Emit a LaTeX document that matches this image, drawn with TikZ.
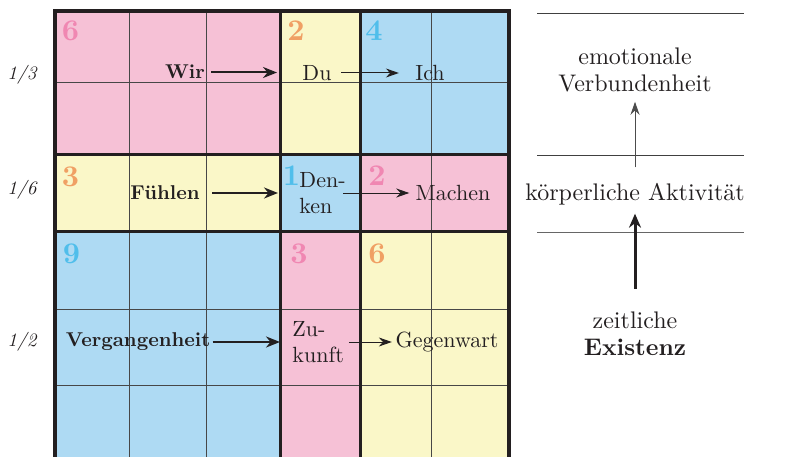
\documentclass[tikz,border=0pt]{standalone}
\usetikzlibrary{arrows.meta}
\definecolor{pinkf}{RGB}{246,193,214}
\definecolor{yelf}{RGB}{250,247,200}
\definecolor{bluef}{RGB}{174,218,243}
\definecolor{pinkn}{RGB}{240,135,178}
\definecolor{orangen}{RGB}{240,160,100}
\definecolor{cyann}{RGB}{80,190,235}
\definecolor{ink}{RGB}{35,31,32}
\begin{document}
\begin{tikzpicture}[x=1pt,y=-1pt,
  lbl/.style={inner sep=0pt, text=ink, scale=2.2},
  blbl/.style={inner sep=0pt, text=ink, scale=2.0, font=\bfseries},
  fraclbl/.style={inner sep=0pt, text=ink, scale=1.9, font=\itshape},
  numlbl/.style={inner sep=0pt, scale=3.0, font=\bfseries},
  twolbl/.style={inner sep=0pt, text=ink, scale=2.2, align=left, anchor=west},
  rlbl/.style={inner sep=0pt, text=ink, scale=2.4, align=center, font=\fontsize{10}{11.4}\selectfont},
  gridthin/.style={line width=1pt, draw=black!72},
  gridthick/.style={line width=3pt, draw=ink},
  bigarr/.style={line width=2pt, draw=ink, -{Stealth[length=14pt,width=11pt]}},
  smallarr/.style={line width=1pt, draw=ink, -{Stealth[length=13pt,width=9pt]}},
  hline/.style={line width=1pt, draw=black!75},
]
\useasboundingbox (0,0) rectangle (797,457);
\clip (0,0) rectangle (797,457);

% block fills
\fill[pinkf] (54.5,11) rectangle (280.5,155);
\fill[yelf]  (280.5,11) rectangle (360,155);
\fill[bluef] (360,11) rectangle (508.5,155);
\fill[yelf]  (54.5,155) rectangle (280.5,231);
\fill[bluef] (280.5,155) rectangle (360,231);
\fill[pinkf] (360,155) rectangle (508.5,231);
\fill[bluef] (54.5,231) rectangle (280.5,462);
\fill[pinkf] (280.5,231) rectangle (360,462);
\fill[yelf]  (360,231) rectangle (508.5,462);

% thin grid lines
\draw[gridthin] (129.5,11) -- (129.5,462);
\draw[gridthin] (206,11) -- (206,462);
\draw[gridthin] (431,11) -- (431,462);
\draw[gridthin] (54.5,83) -- (508.5,83);
\draw[gridthin] (54.5,309) -- (508.5,309);
\draw[gridthin] (54.5,385) -- (508.5,385);

% thick block borders
\draw[gridthick] (54.5,155) -- (508.5,155);
\draw[gridthick] (54.5,231) -- (508.5,231);
\draw[gridthick] (280.5,11) -- (280.5,462);
\draw[gridthick] (360,11) -- (360,462);
\draw[line width=4pt, draw=ink] (54.5,11) rectangle (508.5,462);

% row fractions
\node[fraclbl] (f13) at (22,75) {1/3};
\node[fraclbl] (f16) at (22,190) {1/6};
\node[fraclbl] (f12) at (22,342) {1/2};

% block numbers
\node[numlbl, text=pinkn]   (n6a) at (70.5,31) {6};
\node[numlbl, text=orangen] (n2a) at (296,31) {2};
\node[numlbl, text=cyann]   (n4a) at (374,31) {4};
\node[numlbl, text=orangen] (n3a) at (70.5,177) {3};
\node[numlbl, text=cyann]   (n1)  at (291.5,176) {1};
\node[numlbl, text=pinkn]   (n2b) at (377,176) {2};
\node[numlbl, text=cyann]   (n9)  at (71.5,254) {9};
\node[numlbl, text=pinkn]   (n3b) at (299,254) {3};
\node[numlbl, text=orangen] (n6b) at (377,254) {6};

% labels in the grid
\node[blbl] (wir) at (185,71.5) {Wir};
\node[lbl] (du) at (317,73) {Du};
\node[lbl] (ich) at (430,73) {Ich};
\node[blbl] (fuehlen) at (165,193) {Fühlen};
\node[twolbl] (denken) at (299,193) {Den-\\ken};
\node[lbl] (machen) at (453,193) {Machen};
\node[blbl] (verg) at (138,342) {Vergangenheit};
\node[twolbl] (zukunft) at (292,342) {Zu-\\kunft};
\node[lbl] (gegen) at (447,342) {Gegenwart};

\coordinate (wirend) at (277,72.5);
\coordinate (fuehlend) at (278,193);
\coordinate (vergend) at (280,342);

\draw[bigarr, shorten <=6pt] (wir.east |- wirend) -- (wirend);
\draw[smallarr, shorten <=9.5pt, shorten >=16pt] (du.east) -- (ich.west);
\draw[bigarr, shorten <=12pt] (fuehlen.east) -- (fuehlend);
\draw[smallarr, shorten <=-3pt, shorten >=6pt] (denken.east) -- (machen.west);
\draw[bigarr, shorten <=2pt] (verg.east) -- (vergend);
\draw[smallarr, shorten <=4.5pt, shorten >=3.3pt] (zukunft.east) -- (gegen.west);

% right side
\draw[hline] (537,14) -- (744,14);
\draw[hline] (537,156) -- (744,156);
\draw[hline, draw=black!60] (537,232) -- (744,232);

\node[rlbl] (emo) at (635,69.7) {emotionale\\Verbundenheit};
\node[rlbl] (koerper) at (635,194) {körperliche Aktivität};
\node[rlbl] (zeit) at (635,334) {zeitliche\\\textbf{Existenz}};

\draw[line width=1pt, draw=black!70, -{Stealth[length=13pt,width=9pt]}, shorten <=15.3pt, shorten >=9.3pt] (koerper.north) -- (emo.south);
\draw[line width=3pt, draw=ink, -{Stealth[length=14pt,width=12pt]}, shorten <=22.6pt, shorten >=8.3pt] (zeit.north) -- (koerper.south);
\end{tikzpicture}
\end{document}
